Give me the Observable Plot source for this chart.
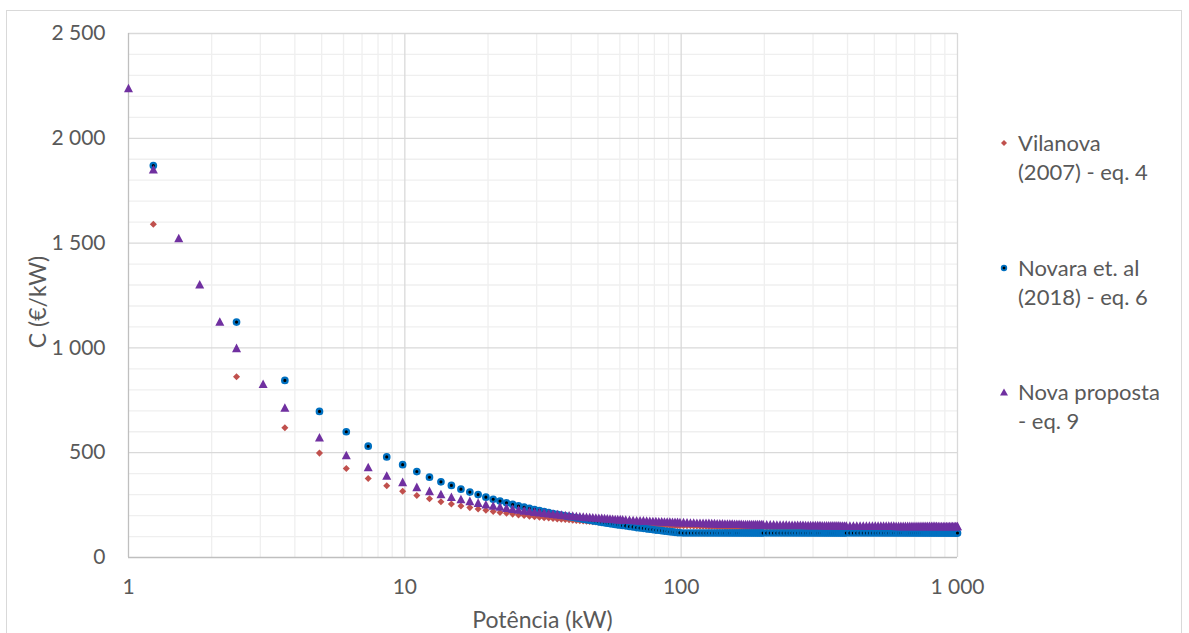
<!DOCTYPE html>
<html>
<head>
<meta charset="utf-8">
<script src="https://cdn.jsdelivr.net/npm/d3@7"></script>
<script src="https://cdn.jsdelivr.net/npm/@observablehq/plot@0.6"></script>
<style>
  body { margin: 0; background: #fff; }
  #wrap { position: relative; width: 1189px; height: 633px; overflow: hidden; font-family: Lato, "Open Sans", sans-serif; color: #595959; background: #fff; }
  #frame { position: absolute; left: 6px; top: 10px; width: 1176px; height: 660px; border: 1px solid #d9d9d9; box-sizing: border-box; }
  #chart { position: absolute; left: 0; top: 0; }
  .leg { position: absolute; left: 1018px; font-size: 22px; line-height: 29px; white-space: nowrap; }
  .legm { position: absolute; left: 996px; }
  #xtitle { position: absolute; left: 0; width: 1085px; top: 604px; text-align: center; font-size: 23px; line-height: 30px; }
  #ytitle { position: absolute; left: 37px; top: 302px; font-size: 23px; line-height: 26px; transform: translate(-50%, -50%) rotate(-90deg); white-space: nowrap; }
</style>
</head>
<body>
<div id="wrap">
  <div id="frame"></div>
  <div id="chart"></div>
  <div id="ytitle">C (€/kW)</div>
  <div id="xtitle">Potência (kW)</div>
  <div id="legend"></div>
</div>
<script>
// ---- Data ----
const seriesNames = ["Vilanova\n(2007) - eq. 4", "Novara et. al\n(2018) - eq. 6", "Nova proposta\n- eq. 9"];

const potencia = [
  1.23, 2.46, 3.68, 4.91, 6.14, 7.37, 8.6, 9.82, 11.05, 12.28,
  13.51, 14.74, 15.96, 17.19, 18.42, 19.65, 20.88, 22.1, 23.33, 24.56,
  25.79, 27.02, 28.24, 29.47, 30.7, 31.93, 33.16, 34.38, 35.61, 36.84,
  38.07, 39.3, 40.52, 41.75, 42.98, 44.21, 45.44, 46.66, 47.89, 49.12,
  50.35, 51.58, 52.8, 54.03, 55.26, 56.49, 57.72, 58.94, 60.17, 61.4,
  63, 65, 67, 69, 71, 73, 75, 77, 79, 81, 83, 85, 87, 89, 91, 93, 95, 97, 99,
  102, 105, 108, 111, 114, 117, 120, 123, 126, 129, 132, 135, 138, 141, 144, 147, 150,
  153, 156, 159, 162, 165, 168, 171, 174, 177, 180, 183, 186, 189, 192, 195, 198,
  204, 210, 216, 222, 228, 234, 240, 246, 252, 258, 264, 270, 276, 282, 288, 294, 300,
  306, 312, 318, 324, 330, 336, 342, 348, 354, 360, 366, 372, 378, 384, 390, 396,
  408, 420, 432, 444, 456, 468, 480, 492, 504, 516, 528, 540, 552, 564, 576, 588, 600,
  612, 624, 636, 648, 660, 672, 684, 696, 708, 720, 732, 744, 756, 768, 780, 792, 804,
  816, 828, 840, 852, 864, 876, 888, 900, 912, 924, 936, 948, 960, 972, 984, 996, 1000
];

const vilanova = [
  1590, 862, 619, 498, 425, 377, 342, 316, 296, 280,
  266, 255, 246, 238, 231, 225, 220, 215, 211, 207,
  203, 200, 197, 195, 192, 190, 188, 186, 184, 183,
  181, 180, 178, 177, 176, 174, 173, 172, 171, 170,
  170, 169, 168, 167, 166, 166, 165, 164, 164, 163,
  162, 161, 161, 160, 159, 158, 158, 157, 157, 156, 156, 155, 155, 154, 154, 153, 153, 152, 152,
  152, 151, 151, 150, 150, 149, 149, 149, 148, 148, 148, 147, 147, 147, 146, 146, 146,
  146, 145, 145, 145, 145, 145, 144, 144, 144, 144, 144, 144, 143, 143, 143, 143,
  143, 142, 142, 142, 142, 142, 141, 141, 141, 141, 141, 141, 140, 140, 140, 140, 140,
  140, 140, 140, 139, 139, 139, 139, 139, 139, 139, 139, 139, 139, 139, 139, 138,
  138, 138, 138, 138, 138, 138, 138, 138, 138, 137, 137, 137, 137, 137, 137, 137, 137,
  137, 137, 137, 137, 137, 137, 137, 137, 137, 136, 136, 136, 136, 136, 136, 136, 136,
  136, 136, 136, 136, 136, 136, 136, 136, 136, 136, 136, 136, 136, 136, 136, 136, 136
];

const novara = [
  1870, 1123, 845, 697, 600, 531, 480, 443, 410, 383,
  361, 344, 326, 312, 300, 288, 278, 269, 261, 253,
  246, 240, 234, 229, 224, 219, 214, 210, 206, 202,
  199, 195, 192, 189, 186, 183, 180, 178, 175, 173,
  170, 168, 166, 164, 162, 160, 158, 156, 155, 153,
  151, 148, 146, 143, 141, 139, 137, 135, 133, 131, 130, 128, 126, 125, 123, 122, 120, 119, 118,
  117, 117, 117, 117, 117, 117, 117, 117, 117, 117, 117, 117, 117, 117, 117, 117, 117,
  117, 117, 117, 117, 117, 117, 117, 117, 117, 117, 117, 117, 117, 117, 117, 117,
  117, 117, 117, 117, 117, 117, 117, 117, 117, 117, 117, 117, 117, 117, 117, 117, 117,
  117, 117, 117, 117, 117, 117, 117, 117, 117, 117, 117, 117, 117, 117, 117, 117,
  117, 117, 117, 117, 117, 117, 117, 117, 117, 117, 117, 117, 117, 117, 117, 117, 117,
  117, 117, 117, 117, 117, 117, 117, 117, 117, 117, 117, 117, 117, 117, 117, 117, 117,
  117, 117, 117, 117, 117, 117, 117, 117, 117, 117, 117, 117, 117, 117, 117, 117, 117
];

const proposta = [
  1852, 1000, 716, 574, 489, 432, 391, 361, 337, 318,
  303, 290, 279, 270, 262, 254, 248, 243, 238, 233,
  229, 225, 222, 219, 216, 214, 211, 209, 207, 205,
  203, 201, 200, 198, 197, 195, 194, 193, 192, 191,
  190, 189, 188, 187, 186, 185, 184, 183, 183, 182,
  181, 180, 179, 178, 177, 177, 176, 175, 174, 174, 173, 173, 172, 171, 171, 170, 170, 170, 169,
  169, 168, 167, 167, 166, 166, 165, 165, 165, 164, 164, 163, 163, 163, 162, 162, 162,
  162, 161, 161, 161, 161, 160, 160, 160, 160, 160, 159, 159, 159, 159, 159, 159,
  158, 158, 158, 157, 157, 157, 157, 156, 156, 156, 156, 156, 156, 155, 155, 155, 155,
  155, 155, 155, 154, 154, 154, 154, 154, 154, 154, 154, 154, 153, 153, 153, 153,
  153, 153, 153, 153, 153, 152, 152, 152, 152, 152, 152, 152, 152, 152, 152, 152, 151,
  151, 151, 151, 151, 151, 151, 151, 151, 151, 151, 151, 151, 151, 151, 151, 151, 151,
  151, 151, 151, 150, 150, 150, 150, 150, 150, 150, 150, 150, 150, 150, 150, 150, 150
];

// extra points of the "Nova proposta" series
const propostaExtraPotencia = [1, 1.52, 1.81, 2.14, 3.07];
const propostaExtra = [2240, 1524, 1304, 1126, 829];

const xTicks = [1, 10, 100, 1000];
const xMinorGrid = [2, 3, 4, 5, 6, 7, 8, 9, 20, 30, 40, 50, 60, 70, 80, 90, 200, 300, 400, 500, 600, 700, 800, 900];
const yTicks = [0, 500, 1000, 1500, 2000, 2500];
const yMinorGrid = [100, 200, 300, 400, 600, 700, 800, 900, 1100, 1200, 1300, 1400, 1600, 1700, 1800, 1900, 2100, 2200, 2300, 2400];

const colors = ["#c0504d", "#0070c0", "#7030a0"];

// ---- symbols ----
const diamondSym = { draw(ctx, size) { const a = Math.sqrt(size / Math.PI) * 1.1; ctx.moveTo(0, -a); ctx.lineTo(a, 0); ctx.lineTo(0, a); ctx.lineTo(-a, 0); ctx.closePath(); } };
const triangleSym = { draw(ctx, size) { const r = Math.sqrt(size / Math.PI); const w = 1.05 * r, h = 1.0 * r; ctx.moveTo(0, -h); ctx.lineTo(w, h); ctx.lineTo(-w, h); ctx.closePath(); } };

const fmt = d => d >= 1000 ? `${Math.floor(d / 1000)} ${String(d % 1000).padStart(3, "0")}` : `${d}`;

const chart = Plot.plot({
  width: 1189,
  height: 633,
  marginLeft: 128,
  marginRight: 232,
  marginTop: 33,
  marginBottom: 76,
  x: { type: "log", domain: [1, 1000] },
  y: { domain: [0, 2500] },
  style: { fontFamily: "Lato, 'Open Sans', sans-serif", fontSize: "21px", background: "transparent", overflow: "visible" },
  marks: [
    Plot.ruleX(xMinorGrid, { stroke: "#efefef", strokeWidth: 1.3 }),
    Plot.ruleY(yMinorGrid, { stroke: "#efefef", strokeWidth: 1.3 }),
    Plot.ruleX(xTicks.slice(1), { stroke: "#d9d9d9", strokeWidth: 1.3 }),
    Plot.ruleY(yTicks.slice(1), { stroke: "#d9d9d9", strokeWidth: 1.3 }),
    Plot.ruleX([1], { stroke: "#bfbfbf", strokeWidth: 1.3 }),
    Plot.ruleY([0], { stroke: "#bfbfbf", strokeWidth: 1.3 }),
    Plot.axisX(xTicks, { tickSize: 0, tickPadding: 22, tickFormat: fmt, label: null, fill: "#595959" }),
    Plot.axisY(yTicks, { tickSize: 0, tickPadding: 23, tickFormat: fmt, label: null, fill: "#595959" }),
    Plot.dot(potencia, { x: potencia, y: vilanova, symbol: diamondSym, r: 3.2, fill: colors[0], stroke: "none" }),
    Plot.dot(potencia, { x: potencia, y: novara, r: 2.7, fill: "#000", stroke: colors[1], strokeWidth: 2.3 }),
    Plot.dot(propostaExtraPotencia, { x: propostaExtraPotencia, y: propostaExtra, symbol: triangleSym, r: 4.3, fill: colors[2], stroke: "none" }),
    Plot.dot(potencia, { x: potencia, y: proposta, symbol: triangleSym, r: 4.3, fill: colors[2], stroke: "none" })
  ]
});
document.getElementById("chart").appendChild(chart);

// ---- legend ----
const legend = document.getElementById("legend");
const legTops = [128, 253, 377];
const markerSvgs = [
  `<svg width="16" height="16" viewBox="-8 -8 16 16"><path d="M0,-3L3,0L0,3L-3,0Z" fill="${colors[0]}"/></svg>`,
  `<svg width="16" height="16" viewBox="-8 -8 16 16"><circle r="2.3" fill="#000" stroke="${colors[1]}" stroke-width="1.8"/></svg>`,
  `<svg width="16" height="16" viewBox="-8 -8 16 16"><path d="M0,-3.6L4,3.4L-4,3.4Z" fill="${colors[2]}"/></svg>`
];
seriesNames.forEach((name, i) => {
  const t = document.createElement("div");
  t.className = "leg";
  t.style.top = legTops[i] + "px";
  t.innerHTML = name.split("\n").map(s => s.replace(/&/g, "&amp;")).join("<br>");
  legend.appendChild(t);
  const m = document.createElement("div");
  m.className = "legm";
  m.style.top = (legTops[i] + 14.5 - 8) + "px";
  m.innerHTML = markerSvgs[i];
  legend.appendChild(m);
});
</script>
</body>
</html>
